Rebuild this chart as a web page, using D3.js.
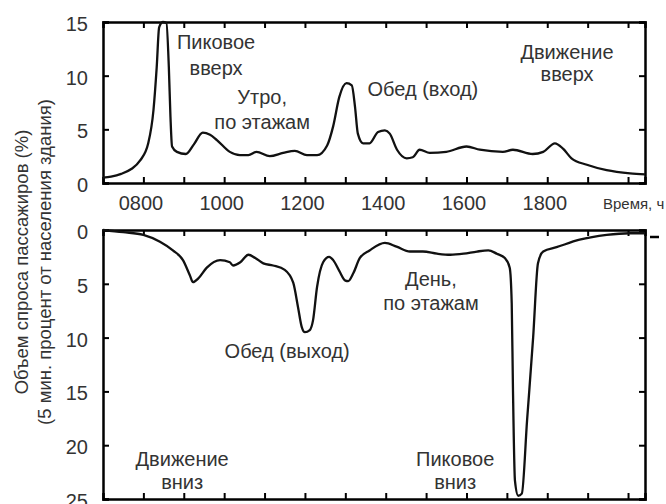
<!DOCTYPE html>
<html>
<head>
<meta charset="utf-8">
<script src="https://cdn.jsdelivr.net/npm/d3@7"></script>
<style>
body { margin: 0; background: #fff; }
text { font-family: "Liberation Sans", Arial, sans-serif; fill: #333; }
</style>
</head>
<body>
<svg id="chart" width="666" height="504"></svg>
<script>
// up traffic (top panel), hours vs % of building population per 5 min
var upTime   = [7.0, 7.2, 7.45, 7.7, 7.92, 8.12, 8.25, 8.33, 8.39, 8.48, 8.57, 8.63, 8.67, 8.71, 8.83,
                9.05, 9.25, 9.47, 9.65, 9.82, 10.14, 10.39, 10.6, 10.8, 11.13, 11.46, 11.75, 12.05, 12.3,
                12.55, 12.7, 12.85, 13.03, 13.16, 13.24, 13.31, 13.44, 13.6, 13.81, 13.98, 14.1, 14.28,
                14.52, 14.67, 14.84, 15.09, 15.5, 16.0, 16.33, 16.9, 17.15, 17.64, 17.9, 18.19, 18.39,
                18.6, 18.98, 19.47, 20.05, 20.42];
var upDemand = [0.5, 0.6, 0.85, 1.3, 2.1, 3.7, 6.8, 10.8, 14.5, 15.0, 14.9, 10.8, 6.2, 3.4, 2.9,
                2.7, 3.6, 4.7, 4.5, 4.0, 2.9, 2.6, 2.6, 2.9, 2.5, 2.8, 3.0, 2.6, 2.6,
                3.5, 5.3, 8.0, 9.3, 9.1, 7.1, 4.6, 3.7, 3.7, 4.75, 4.9, 4.6, 3.1,
                2.3, 2.4, 3.1, 2.8, 2.9, 3.4, 3.1, 2.9, 3.1, 2.7, 2.9, 3.7, 3.2,
                2.3, 1.7, 1.2, 0.9, 0.8];

// down traffic (bottom panel, drawn downward)
var downTime   = [7.0, 7.5, 8.0, 8.41, 8.73, 8.98, 9.15, 9.23, 9.36, 9.57, 9.9, 10.14, 10.22, 10.4,
                  10.6, 10.77, 10.97, 11.21, 11.5, 11.71, 11.83, 11.92, 12.0, 12.12, 12.2, 12.3, 12.45,
                  12.6, 12.7, 12.85, 13.0, 13.07, 13.2, 13.36, 13.6, 13.98, 14.27, 14.6, 14.92, 15.27,
                  15.6, 15.93, 16.26, 16.54, 16.75, 16.95, 17.07, 17.12, 17.15, 17.2, 17.28, 17.37,
                  17.5, 17.65, 17.77, 17.9, 18.23, 18.8, 19.47, 20.05, 20.42];
var downDemand = [0, 0.2, 0.45, 1.1, 1.9, 2.8, 4.2, 4.85, 4.5, 3.5, 2.8, 3.0, 3.3, 3.0,
                  2.3, 2.6, 3.1, 3.3, 3.7, 4.9, 7.2, 9.0, 9.5, 9.3, 8.4, 5.3, 3.0,
                  2.5, 2.8, 3.8, 4.7, 4.75, 4.0, 2.6, 1.9, 1.2, 1.55, 2.0, 2.0, 2.2,
                  2.3, 2.2, 2.0, 1.9, 2.2, 2.6, 3.5, 6.8, 14.6, 23.3, 24.7, 24.5,
                  17.7, 10, 3.1, 2.0, 1.6, 0.9, 0.45, 0.3, 0.3];

var hourTicks = [8, 9, 10, 11, 12, 13, 14, 15, 16, 17, 18, 19, 20];
var hourLabels = ['0800', '', '1000', '', '1200', '', '1400', '', '1600', '', '1800', '', ''];
var upTicks = [0, 5, 10, 15];
var downTicks = [0, 5, 10, 15, 20, 25];

var svg = d3.select('#chart');

var x = d3.scaleLinear().domain([7, 20.42]).range([103, 645]);
var yUp = d3.scaleLinear().domain([0, 15]).range([183, 22]);
var yDown = d3.scaleLinear().domain([0, 25]).range([230, 499]);

function drawPanel(yScale, ticks, times, values, showLabels) {
    var g = svg.append('g');
    var r = yScale.range();
    var top = Math.min(r[0], r[1]);
    var bottom = Math.max(r[0], r[1]);

    // hour ticks on top and bottom edges, pointing inward
    g.append('g').attr('transform', 'translate(0,' + top + ')')
        .call(d3.axisBottom(x).tickValues(hourTicks).tickSize(6).tickFormat(''));
    g.append('g').attr('transform', 'translate(0,' + bottom + ')')
        .call(d3.axisTop(x).tickValues(hourTicks).tickSize(6).tickFormat(''));
    if (showLabels) {
        g.append('g').attr('transform', 'translate(-3,' + bottom + ')')
            .call(d3.axisBottom(x).tickValues(hourTicks).tickSize(0).tickPadding(13)
                .tickFormat(function(d, i) { return hourLabels[i]; }))
            .call(function(a) { a.select('.domain').remove(); });
    }

    // value ticks left and right, inward
    g.append('g').attr('transform', 'translate(' + x.range()[0] + ',0)')
        .call(d3.axisRight(yScale).tickValues(ticks).tickSize(6).tickFormat(''));
    g.append('g').attr('transform', 'translate(' + x.range()[1] + ',0)')
        .call(d3.axisLeft(yScale).tickValues(ticks).tickSize(6).tickFormat(''));
    g.append('g').attr('transform', 'translate(' + x.range()[0] + ',2)')
        .call(d3.axisLeft(yScale).tickValues(ticks).tickSize(0).tickPadding(15))
        .call(function(a) { a.select('.domain').remove(); });

    g.selectAll('.domain').attr('stroke', '#000').attr('stroke-width', 2.5);
    g.selectAll('.tick line').attr('stroke', '#000').attr('stroke-width', 2);
    g.selectAll('.tick text').attr('font-size', 20).attr('fill', '#333')
        .attr('font-family', '"Liberation Sans", Arial, sans-serif');

    var pts = times.map(function(t, i) { return [t, values[i]]; });
    var line = d3.line()
        .x(function(d) { return x(d[0]); })
        .y(function(d) { return yScale(d[1]); })
        .curve(d3.curveMonotoneX);
    g.append('path').datum(pts)
        .attr('d', line)
        .attr('fill', 'none')
        .attr('stroke', '#111')
        .attr('stroke-width', 2.3)
        .attr('stroke-linejoin', 'round');
}

drawPanel(yUp, upTicks, upTime, upDemand, true);
drawPanel(yDown, downTicks, downTime, downDemand, false);

// annotations (anchor: time, value of first baseline)
var notes = [
    { t: 9.80, v: 12.5, lines: ['Пиковое', 'вверх'], s: yUp, gap: 26 },
    { t: 10.94, v: 7.36, lines: ['Утро,', 'по этажам'], s: yUp, gap: 25 },
    { t: 14.92, v: 8.1, lines: ['Обед (вход)'], s: yUp, gap: 0 },
    { t: 18.49, v: 11.55, lines: ['Движение', 'вверх'], s: yUp, gap: 22 },
    { t: 11.56, v: 11.85, lines: ['Обед (выход)'], s: yDown, gap: 0 },
    { t: 15.12, v: 5.22, lines: ['День,', 'по этажам'], s: yDown, gap: 24 },
    { t: 8.96, v: 21.9, lines: ['Движение', 'вниз'], s: yDown, gap: 23 },
    { t: 15.72, v: 21.9, lines: ['Пиковое', 'вниз'], s: yDown, gap: 23 }
];
notes.forEach(function(n) {
    var tx = svg.append('text')
        .attr('x', x(n.t))
        .attr('y', n.s(n.v))
        .attr('text-anchor', 'middle')
        .attr('font-size', 20)
        .attr('fill', '#444');
    n.lines.forEach(function(l, i) {
        tx.append('tspan').attr('x', x(n.t)).attr('dy', i === 0 ? 0 : n.gap).text(l);
    });
});

svg.append('text')
    .attr('x', 603).attr('y', 209)
    .attr('font-size', 15).attr('fill', '#444')
    .text('Время, ч');

// y axis title, two lines
var yTitle = svg.append('text')
    .attr('transform', 'translate(22,262) rotate(-90)')
    .attr('text-anchor', 'middle')
    .attr('font-size', 18.5)
    .attr('fill', '#444');
yTitle.append('tspan').attr('x', 0).attr('dy', 6).text('Объем спроса пассажиров (%)');
yTitle.append('tspan').attr('x', 0).attr('dy', 23).text('(5 мин. процент от населения здания)');

// stray mark right of lower panel
svg.append('line').attr('x1', 650).attr('x2', 659).attr('y1', 237).attr('y2', 237)
    .attr('stroke', '#000').attr('stroke-width', 2.5);
</script>
</body>
</html>
